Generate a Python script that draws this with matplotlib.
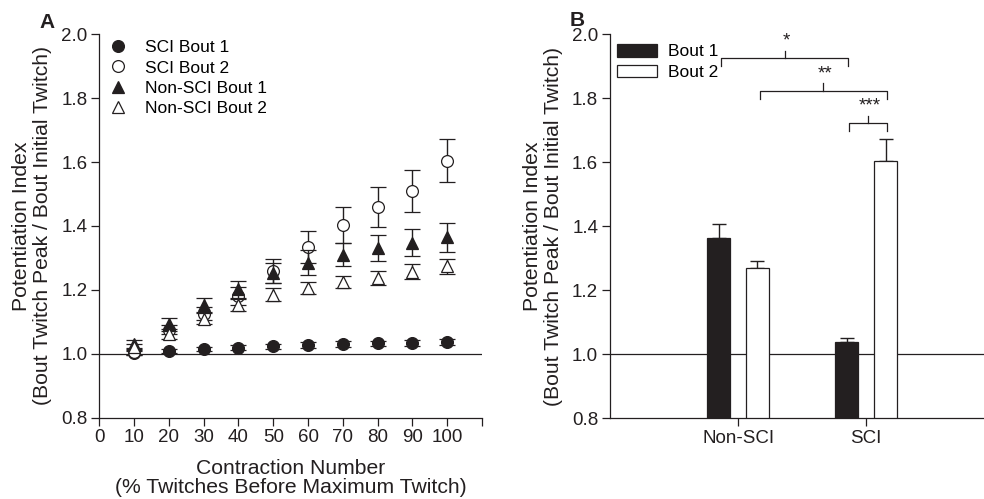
import numpy as np
import matplotlib
matplotlib.use('Agg')
import matplotlib.pyplot as plt
from matplotlib.lines import Line2D
from matplotlib.patches import Patch

plt.rcParams['font.family'] = ['Liberation Sans', 'DejaVu Sans']
plt.rcParams['axes.linewidth'] = 0.9
plt.rcParams['xtick.major.width'] = 0.9
plt.rcParams['ytick.major.width'] = 0.9
plt.rcParams['xtick.major.size'] = 5.5
plt.rcParams['ytick.major.size'] = 5.5

INK = '#231f20'

# ---- panel A data ----
contraction = [10, 20, 30, 40, 50, 60, 70, 80, 90, 100]
sci_b1 = [1.003, 1.008, 1.015, 1.019, 1.023, 1.027, 1.030, 1.032, 1.034, 1.036]
sci_b1_err = [0.006, 0.007, 0.007, 0.008, 0.008, 0.008, 0.008, 0.009, 0.009, 0.009]
sci_b2 = [1.005, 1.075, 1.125, 1.180, 1.258, 1.335, 1.403, 1.460, 1.510, 1.604]
sci_b2_err = [0.010, 0.015, 0.020, 0.028, 0.038, 0.050, 0.055, 0.062, 0.065, 0.067]
nonsci_b1 = [1.030, 1.092, 1.153, 1.202, 1.252, 1.285, 1.310, 1.330, 1.347, 1.364]
nonsci_b1_err = [0.012, 0.020, 0.022, 0.027, 0.032, 0.038, 0.037, 0.040, 0.042, 0.045]
nonsci_b2 = [1.020, 1.061, 1.110, 1.152, 1.185, 1.206, 1.224, 1.237, 1.257, 1.273]
nonsci_b2_err = [0.010, 0.015, 0.017, 0.018, 0.020, 0.019, 0.019, 0.023, 0.023, 0.023]

# ---- panel B data ----
groups = ['Non-SCI', 'SCI']
bout1_mean = [1.362, 1.037]
bout1_err = [0.045, 0.013]
bout2_mean = [1.269, 1.603]
bout2_err = [0.024, 0.069]
# (bar a, bar b, bracket level, label); bar = (group index, bout index)
sig_pairs = [((0, 0), (1, 0), 1.925, '*'),
             ((0, 1), (1, 1), 1.823, '**'),
             ((1, 0), (1, 1), 1.722, '***')]

W, H = 984, 499
fig = plt.figure(figsize=(W / 100, H / 100), dpi=100)
fig.patch.set_facecolor('white')

ylabel = 'Potentiation Index\n(Bout Twitch Peak / Bout Initial Twitch)'
yticks = np.arange(0.8, 2.01, 0.2)


def style_axis(ax):
    for s in ['top', 'right']:
        ax.spines[s].set_visible(False)
    for s in ['left', 'bottom']:
        ax.spines[s].set_color(INK)
    ax.tick_params(colors=INK, labelsize=13.5, direction='out', pad=3)
    ax.set_ylim(0.8, 2.0)
    ax.set_yticks(yticks)
    ax.set_yticklabels(['{:.1f}'.format(v) for v in yticks])
    ax.set_ylabel(ylabel, fontsize=15.2, color=INK, labelpad=6.5, linespacing=1.15)
    ax.axhline(1.0, color=INK, lw=0.9, zorder=1)


# ---------------- panel A ----------------
axA = fig.add_axes([99.3 / W, 81.5 / H, 382.7 / W, 383.2 / H])
style_axis(axA)
axA.set_xlim(0, 110)
axA.set_xticks(np.arange(0, 111, 10))
axA.set_xticklabels([str(v) for v in range(0, 101, 10)] + [''])
axA.set_xlabel('Contraction Number\n(% Twitches Before Maximum Twitch)',
               fontsize=15.2, color=INK, labelpad=9, linespacing=1.0)

# drawn bottom to top
series = [
    (sci_b1, sci_b1_err, 'o', INK, 'SCI Bout 1'),
    (sci_b2, sci_b2_err, 'o', 'white', 'SCI Bout 2'),
    (nonsci_b1, nonsci_b1_err, '^', INK, 'Non-SCI Bout 1'),
    (nonsci_b2, nonsci_b2_err, '^', 'white', 'Non-SCI Bout 2'),
]
for k, (y, e, mk, fc, lab) in enumerate(series):
    axA.errorbar(contraction, y, yerr=e, fmt=mk, mfc=fc, mec=INK, mew=0.9,
                 ms=8.5, ecolor=INK, elinewidth=1.0, capsize=6, capthick=1.0,
                 zorder=3 + k, clip_on=False)

handles = [Line2D([], [], ls='none', marker=mk, mfc=fc, mec=INK, mew=0.9, ms=8.5)
           for (_, _, mk, fc, _) in series]
labels = [s[4] for s in series]
axA.legend(handles, labels, loc='upper left', frameon=False, fontsize=12.5,
           bbox_to_anchor=(107.5 / W, 1 - 40 / H), bbox_transform=fig.transFigure,
           borderpad=0, borderaxespad=0, handlelength=1.2, handletextpad=0.95,
           labelspacing=0.3)

# ---------------- panel B ----------------
axB = fig.add_axes([610 / W, 80.7 / H, 374 / W, 384.0 / H])
style_axis(axB)
axB.set_xlim(0, 2.92)
xpos = np.arange(1, len(groups) + 1)
bw = 0.182
off = 0.151
axB.bar(xpos - off, bout1_mean, bw, color=INK, edgecolor=INK, lw=0.9,
        zorder=2, label='Bout 1')
axB.bar(xpos + off, bout2_mean, bw, color='white', edgecolor=INK, lw=0.9,
        zorder=2, label='Bout 2')
axB.errorbar(xpos - off, bout1_mean, yerr=[np.zeros(2), bout1_err], fmt='none',
             ecolor=INK, elinewidth=1.0, capsize=4.7, capthick=1.0, zorder=1)
axB.errorbar(xpos + off, bout2_mean, yerr=[np.zeros(2), bout2_err], fmt='none',
             ecolor=INK, elinewidth=1.0, capsize=4.7, capthick=1.0, zorder=1)
axB.set_xticks(xpos)
axB.set_xticklabels(groups, fontsize=13.5)

# significance brackets
drop = 0.024
for (ga, ba), (gb, bb), lev, txt in sig_pairs:
    xa = xpos[ga] + (off if ba else -off) + 0.02
    xb = xpos[gb] + (off if bb else -off) + 0.01
    xm = (xa + xb) / 2
    axB.plot([xa, xa, xb, xb], [lev - drop, lev, lev, lev - drop],
             color=INK, lw=0.9, clip_on=False)
    axB.plot([xm, xm], [lev, lev + drop], color=INK, lw=0.9, clip_on=False)
    axB.text(xm + 0.01, lev + drop + 0.003, txt, ha='center', va='bottom',
             fontsize=13.5, color=INK)

axB.legend(handles=[Patch(facecolor=INK, edgecolor=INK, lw=0.9),
                    Patch(facecolor='white', edgecolor=INK, lw=0.9)],
           labels=['Bout 1', 'Bout 2'], loc='upper left', frameon=False,
           fontsize=12.5, bbox_to_anchor=(617 / W, 1 - 44 / H),
           bbox_transform=fig.transFigure, borderpad=0, borderaxespad=0,
           handlelength=2.3, handleheight=0.75, handletextpad=0.63,
           labelspacing=0.3)

fig.text(47 / W, 1 - 22 / H, 'A', fontsize=15, fontweight='bold',
         ha='center', va='center', color=INK)
fig.text(577 / W, 1 - 20 / H, 'B', fontsize=15, fontweight='bold',
         ha='center', va='center', color=INK)

fig.savefig('out.png', dpi=100, facecolor='white')
